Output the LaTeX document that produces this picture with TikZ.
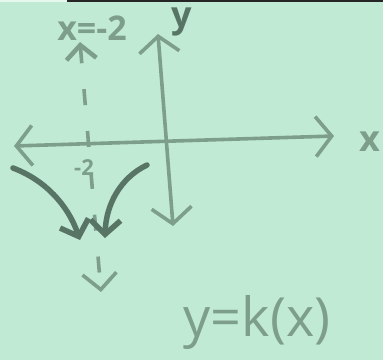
\documentclass[tikz,border=0pt]{standalone}
\usepackage{fontspec}
\setmainfont{Open Sans}
\usetikzlibrary{arrows.meta}
\definecolor{paper}{HTML}{C0EAD3}
\definecolor{pen}{HTML}{7E9E8C}
\definecolor{ink}{HTML}{587464}
\begin{document}
\begin{tikzpicture}[x=1pt, y=-1pt,
  axis/.style={pen, line width=3.6pt, line cap=round,
    {Straight Barb[length=16pt, width=40pt, line width=3.6pt]}-{Straight Barb[length=16pt, width=40pt, line width=3.6pt]}},
  asym/.style={pen, line width=3.6pt, dash pattern=on 16pt off 26pt,
    {Straight Barb[length=14pt, width=30pt, line width=4.5pt]}-{Straight Barb[length=16pt, width=34pt, line width=3.6pt]}},
  branch/.style={ink, line width=5.5pt, line cap=round,
    -{Straight Barb[length=14pt, width=30pt, line width=5.5pt]}},
  lbl/.style={pen, font=\fontsize{36}{36}\selectfont\bfseries, inner sep=0pt}
]
% paper and margins
\fill[paper] (0,0) rectangle (383,360);
\fill[black!85] (67,0) rectangle (383,2);
\fill[paper!40!white] (0,0) rectangle (67,2);
% axes
\coordinate (xleft) at (14,146);
\coordinate (xright) at (334,136);
\coordinate (ytop) at (158,34);
\coordinate (ybot) at (173,226);
\draw[axis] (xleft) -- (xright);
\draw[axis] (ytop) -- (ybot);
\node[lbl] (xlab) at (370,142) {x};
\node[lbl, ink] (ylab) at (182,22) {y};
% vertical asymptote
\coordinate (atop) at (80,42);
\coordinate (abot) at (101,292);
\draw[asym] (atop) -- (abot);
\node[lbl, font=\fontsize{34}{34}\selectfont\bfseries] (alab) at (92,28) {x=-2};
\node[lbl, font=\fontsize{22}{22}\selectfont\bfseries] (tick) at (84,168) {-2};
% branches of k
\coordinate (lstart) at (13,168);
\coordinate (lend) at (80,240);
\coordinate (rstart) at (147,165);
\coordinate (rend) at (105,238);
\draw[branch] (lstart) .. controls (45,180) and (68,205) .. (lend);
\draw[branch] (rstart) .. controls (120,178) and (106,205) .. (rend);
% name of the function
\node[lbl, font=\fontsize{54}{54}\selectfont] (fname) at (257,322) {y=k(x)};
\end{tikzpicture}
\end{document}
